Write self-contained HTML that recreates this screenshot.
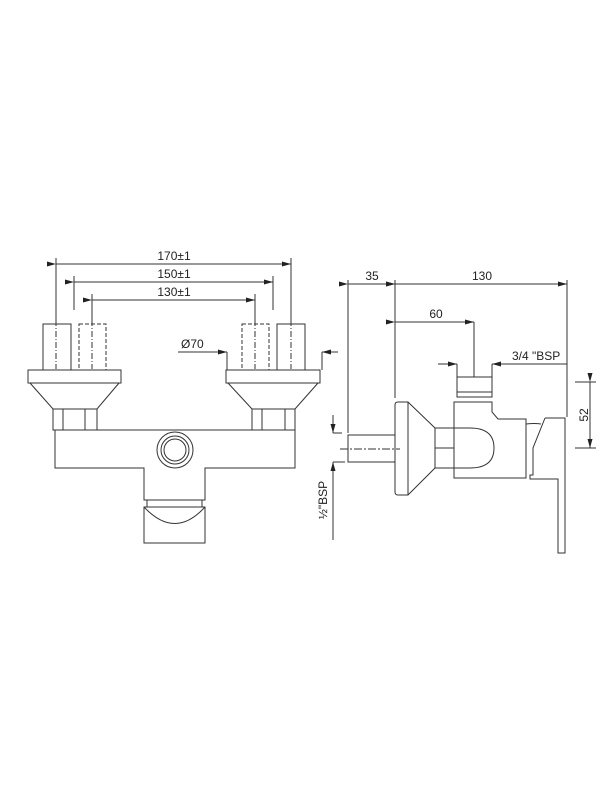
<!DOCTYPE html>
<html><head><style>body{margin:0;background:#fff}svg{display:block}text{font-family:"Liberation Sans",sans-serif;fill:#222}</style></head><body>
<svg width="600" height="800" viewBox="0 0 600 800" xmlns="http://www.w3.org/2000/svg">
<defs><marker id="a" markerWidth="9" markerHeight="5" refX="9" refY="2.5" orient="auto" markerUnits="userSpaceOnUse"><path d="M0,0 L9,2.5 L0,5 z" fill="#222"/></marker></defs>
<g stroke="#333" stroke-width="1" fill="none">
<line x1="56" y1="264" x2="291" y2="264" marker-start="url(#a)" marker-end="url(#a)"/>
<line x1="74" y1="282" x2="273" y2="282" marker-start="url(#a)" marker-end="url(#a)"/>
<line x1="92" y1="300" x2="255" y2="300" marker-start="url(#a)" marker-end="url(#a)"/>
<line x1="56" y1="258" x2="56" y2="320"/><line x1="291" y1="258" x2="291" y2="320"/>
<line x1="74" y1="276" x2="74" y2="310"/><line x1="273" y1="276" x2="273" y2="310"/>
<line x1="92" y1="294" x2="92" y2="320"/><line x1="255" y1="294" x2="255" y2="320"/>
<g stroke-dasharray="6,2,1,2"><line x1="56" y1="320" x2="56" y2="369"/><line x1="92" y1="320" x2="92" y2="369"/><line x1="255" y1="320" x2="255" y2="369"/><line x1="291" y1="320" x2="291" y2="369"/></g>
<rect x="43" y="324" width="28" height="46"/>
<rect x="277" y="324" width="28" height="46"/>
<rect x="79" y="324" width="27" height="46" stroke-dasharray="4,2"/>
<rect x="242" y="324" width="27" height="46" stroke-dasharray="4,2"/>
<rect x="28" y="370" width="93" height="13"/>
<rect x="226" y="370" width="94" height="13"/>
<path d="M30,383 L53,409 L97,409 L119,383"/>
<path d="M228,383 L252,409 L295,409 L318,383"/>
<rect x="53" y="409" width="44" height="21"/><line x1="63" y1="409" x2="63" y2="430"/><line x1="85" y1="409" x2="85" y2="430"/>
<rect x="252" y="409" width="43" height="21"/><line x1="262" y1="409" x2="262" y2="430"/><line x1="285" y1="409" x2="285" y2="430"/>
<path d="M55,430 L295,430 L295,468 L205,468 L205,500 L144,500 L144,468 L55,468 Z"/>
<circle cx="175" cy="450" r="18"/><circle cx="175" cy="450" r="14"/><circle cx="175" cy="450" r="11"/>
<rect x="147" y="500" width="55" height="7"/>
<rect x="144" y="507" width="61" height="36"/>
<path d="M144,507 Q175,540 205,507"/>
<line x1="178" y1="352" x2="227" y2="352" marker-end="url(#a)"/>
<line x1="227" y1="352" x2="227" y2="370"/>
<line x1="338" y1="352" x2="322" y2="352" marker-end="url(#a)"/>
<line x1="322" y1="352" x2="322" y2="370"/>
<line x1="333" y1="415" x2="333" y2="433" marker-end="url(#a)"/>
<line x1="333" y1="433" x2="342" y2="433"/>
<line x1="333" y1="540" x2="333" y2="462" marker-end="url(#a)"/>
<line x1="333" y1="462" x2="345" y2="462"/>
<line x1="348" y1="284" x2="395" y2="284" marker-start="url(#a)" marker-end="url(#a)"/>
<line x1="395" y1="284" x2="567" y2="284" marker-start="url(#a)" marker-end="url(#a)"/>
<line x1="348" y1="280" x2="348" y2="433"/>
<line x1="395" y1="280" x2="395" y2="398"/>
<line x1="567" y1="280" x2="567" y2="417"/>
<line x1="395" y1="322" x2="474" y2="322" marker-start="url(#a)" marker-end="url(#a)"/>
<line x1="474" y1="322" x2="474" y2="377"/>
<line x1="567" y1="364" x2="492" y2="364" marker-end="url(#a)"/>
<line x1="492" y1="364" x2="492" y2="377"/>
<line x1="438" y1="364" x2="457" y2="364" marker-end="url(#a)"/>
<line x1="457" y1="364" x2="457" y2="377"/>
<line x1="575" y1="382" x2="596" y2="382"/><line x1="575" y1="448" x2="596" y2="448"/>
<line x1="590" y1="382" x2="590" y2="448" marker-start="url(#a)" marker-end="url(#a)"/>
<rect x="457" y="377" width="35" height="20"/><line x1="457" y1="392" x2="492" y2="392"/>
<path d="M454,402 L492,402 L492,412 L498,419 L526,419 L526,478 L454,478 Z"/>
<path d="M435,428 L470,428 Q494,428 494,448 Q494,468 470,468 L435,468 Z"/>
<line x1="454" y1="428" x2="454" y2="468"/><line x1="435" y1="448" x2="454" y2="448"/>
<path d="M398,402 L408,402 L435,428 M435,468 L408,495 L398,495 Q395,495 395,492 L395,405 Q395,402 398,402"/>
<line x1="408" y1="402" x2="408" y2="495"/>
<rect x="348" y="435" width="47" height="27"/>
<line x1="340" y1="449" x2="400" y2="449" stroke-dasharray="8,2,2,2"/>
<path d="M526,424 Q535,423 541,424 M545,418 L565,418 L565,553 L558,553 L558,479 L530,479 L530,475 L533,475 L533,448 L545,418"/>
</g>
<g font-size="12">
<text x="174" y="260" text-anchor="middle">170±1</text>
<text x="174" y="278" text-anchor="middle">150±1</text>
<text x="174" y="296" text-anchor="middle">130±1</text>
<text x="181" y="348">Ø70</text>
<text x="372" y="280" text-anchor="middle">35</text>
<text x="482" y="280" text-anchor="middle">130</text>
<text x="436" y="318" text-anchor="middle">60</text>
<text x="512" y="360">3/4 "BSP</text>
<text transform="translate(588,415) rotate(-90)" text-anchor="middle">52</text>
<text transform="translate(327,500) rotate(-90)" text-anchor="middle">½"BSP</text>
</g>
</svg>
</body></html>
